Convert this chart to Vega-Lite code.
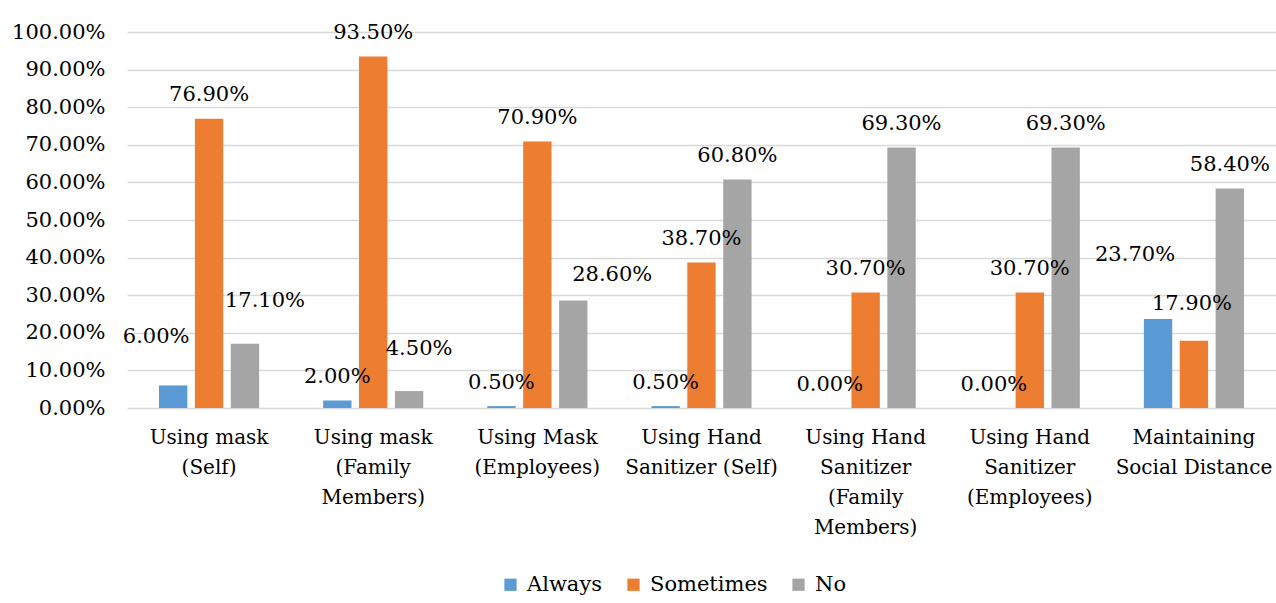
{
  "$schema": "https://vega.github.io/schema/vega-lite/v6.json",
  "autosize": {"type": "none"},
  "padding": {"left": 127, "top": 32, "right": 0, "bottom": 195},
  "width": 1149,
  "height": 376,
  "background": "white",
  "config": {
    "view": {"stroke": null}
  },
  "data": {
    "values": [
      {"practice": "Using mask\n(Self)", "response": "Always", "share": 0.060},
      {"practice": "Using mask\n(Self)", "response": "Sometimes", "share": 0.769},
      {"practice": "Using mask\n(Self)", "response": "No", "share": 0.171},
      {"practice": "Using mask\n(Family\nMembers)", "response": "Always", "share": 0.020},
      {"practice": "Using mask\n(Family\nMembers)", "response": "Sometimes", "share": 0.935},
      {"practice": "Using mask\n(Family\nMembers)", "response": "No", "share": 0.045},
      {"practice": "Using Mask\n(Employees)", "response": "Always", "share": 0.005},
      {"practice": "Using Mask\n(Employees)", "response": "Sometimes", "share": 0.709},
      {"practice": "Using Mask\n(Employees)", "response": "No", "share": 0.286},
      {"practice": "Using Hand\nSanitizer (Self)", "response": "Always", "share": 0.005},
      {"practice": "Using Hand\nSanitizer (Self)", "response": "Sometimes", "share": 0.387},
      {"practice": "Using Hand\nSanitizer (Self)", "response": "No", "share": 0.608},
      {"practice": "Using Hand\nSanitizer\n(Family\nMembers)", "response": "Always", "share": 0.000},
      {"practice": "Using Hand\nSanitizer\n(Family\nMembers)", "response": "Sometimes", "share": 0.307},
      {"practice": "Using Hand\nSanitizer\n(Family\nMembers)", "response": "No", "share": 0.693},
      {"practice": "Using Hand\nSanitizer\n(Employees)", "response": "Always", "share": 0.000},
      {"practice": "Using Hand\nSanitizer\n(Employees)", "response": "Sometimes", "share": 0.307},
      {"practice": "Using Hand\nSanitizer\n(Employees)", "response": "No", "share": 0.693},
      {"practice": "Maintaining\nSocial Distance", "response": "Always", "share": 0.237},
      {"practice": "Maintaining\nSocial Distance", "response": "Sometimes", "share": 0.179},
      {"practice": "Maintaining\nSocial Distance", "response": "No", "share": 0.584}
    ]
  },
  "encoding": {
    "x": {
      "field": "practice",
      "type": "nominal",
      "sort": null,
      "scale": {"paddingInner": 0.39, "paddingOuter": 0.195},
      "axis": {
        "title": null,
        "labelAngle": 0,
        "labelFont": "DejaVu Serif",
        "labelFontSize": 20,
        "labelColor": "#000000",
        "domain": false,
        "ticks": false,
        "labelPadding": 19,
        "labelLineHeight": 30,
        "labelExpr": "split(datum.label, '\\n')"
      }
    },
    "xOffset": {
      "field": "response",
      "type": "nominal",
      "sort": ["Always", "Sometimes", "No"],
      "scale": {"paddingInner": 0.21, "paddingOuter": 0}
    },
    "y": {
      "field": "share",
      "type": "quantitative",
      "scale": {"domain": [0, 1], "nice": false},
      "axis": {
        "title": null,
        "format": ".2%",
        "labelFont": "DejaVu Serif",
        "labelFontSize": 21,
        "labelColor": "#000000",
        "values": [0, 0.1, 0.2, 0.3, 0.4, 0.5, 0.6, 0.7, 0.8, 0.9, 1.0],
        "domain": false,
        "ticks": false,
        "labelPadding": 22,
        "grid": true,
        "gridColor": "#D9D9D9",
        "gridWidth": 1.5
      }
    }
  },
  "layer": [
    {
      "mark": {"type": "bar"},
      "encoding": {
        "color": {
          "field": "response",
          "type": "nominal",
          "scale": {"domain": ["Always", "Sometimes", "No"], "range": ["#5B9BD5", "#ED7D31", "#A5A5A5"]},
          "legend": {
            "title": null,
            "orient": "none",
            "direction": "horizontal",
            "legendX": 373,
            "legendY": 542,
            "labelFont": "DejaVu Serif",
            "labelFontSize": 21,
            "labelColor": "#000000",
            "symbolType": "square",
            "symbolSize": 150,
            "symbolStrokeWidth": 0,
            "labelOffset": 6,
            "columnPadding": 20
          }
        }
      }
    },
    {
      "transform": [{"filter": {"not": {"or": [
        {"and": [{"field": "practice", "equal": "Using mask\n(Self)"}, {"field": "response", "equal": "Always"}]},
        {"and": [{"field": "practice", "equal": "Using mask\n(Self)"}, {"field": "response", "equal": "No"}]},
        {"and": [{"field": "practice", "equal": "Using mask\n(Family\nMembers)"}, {"field": "response", "equal": "No"}]},
        {"and": [{"field": "practice", "equal": "Using Mask\n(Employees)"}, {"field": "response", "equal": "No"}]},
        {"and": [{"field": "practice", "equal": "Maintaining\nSocial Distance"}, {"field": "response", "equal": "Always"}]},
        {"and": [{"field": "practice", "equal": "Maintaining\nSocial Distance"}, {"field": "response", "equal": "Sometimes"}]}
      ]}}}],
      "mark": {"type": "text", "font": "DejaVu Serif", "baseline": "alphabetic", "dy": -17.5, "fontSize": 21, "color": "#000000"},
      "encoding": {"text": {"field": "share", "type": "quantitative", "format": ".2%"}}
    },
    {
      "transform": [{"filter": {"and": [{"field": "practice", "equal": "Using mask\n(Self)"}, {"field": "response", "equal": "Always"}]}}],
      "mark": {"type": "text", "font": "DejaVu Serif", "baseline": "alphabetic", "dx": -17, "dy": -42, "fontSize": 21, "color": "#000000"},
      "encoding": {"text": {"field": "share", "type": "quantitative", "format": ".2%"}}
    },
    {
      "transform": [{"filter": {"and": [{"field": "practice", "equal": "Using mask\n(Self)"}, {"field": "response", "equal": "No"}]}}],
      "mark": {"type": "text", "font": "DejaVu Serif", "baseline": "alphabetic", "dx": 20, "dy": -37, "fontSize": 21, "color": "#000000"},
      "encoding": {"text": {"field": "share", "type": "quantitative", "format": ".2%"}}
    },
    {
      "transform": [{"filter": {"and": [{"field": "practice", "equal": "Using mask\n(Family\nMembers)"}, {"field": "response", "equal": "No"}]}}],
      "mark": {"type": "text", "font": "DejaVu Serif", "baseline": "alphabetic", "dx": 10, "dy": -36, "fontSize": 21, "color": "#000000"},
      "encoding": {"text": {"field": "share", "type": "quantitative", "format": ".2%"}}
    },
    {
      "transform": [{"filter": {"and": [{"field": "practice", "equal": "Using Mask\n(Employees)"}, {"field": "response", "equal": "No"}]}}],
      "mark": {"type": "text", "font": "DejaVu Serif", "baseline": "alphabetic", "dx": 39, "dy": -19, "fontSize": 21, "color": "#000000"},
      "encoding": {"text": {"field": "share", "type": "quantitative", "format": ".2%"}}
    },
    {
      "transform": [{"filter": {"and": [{"field": "practice", "equal": "Maintaining\nSocial Distance"}, {"field": "response", "equal": "Always"}]}}],
      "mark": {"type": "text", "font": "DejaVu Serif", "baseline": "alphabetic", "dx": -23, "dy": -58, "fontSize": 21, "color": "#000000"},
      "encoding": {"text": {"field": "share", "type": "quantitative", "format": ".2%"}}
    },
    {
      "transform": [{"filter": {"and": [{"field": "practice", "equal": "Maintaining\nSocial Distance"}, {"field": "response", "equal": "Sometimes"}]}}],
      "mark": {"type": "text", "font": "DejaVu Serif", "baseline": "alphabetic", "dx": -2, "dy": -31, "fontSize": 21, "color": "#000000"},
      "encoding": {"text": {"field": "share", "type": "quantitative", "format": ".2%"}}
    }
  ]
}
